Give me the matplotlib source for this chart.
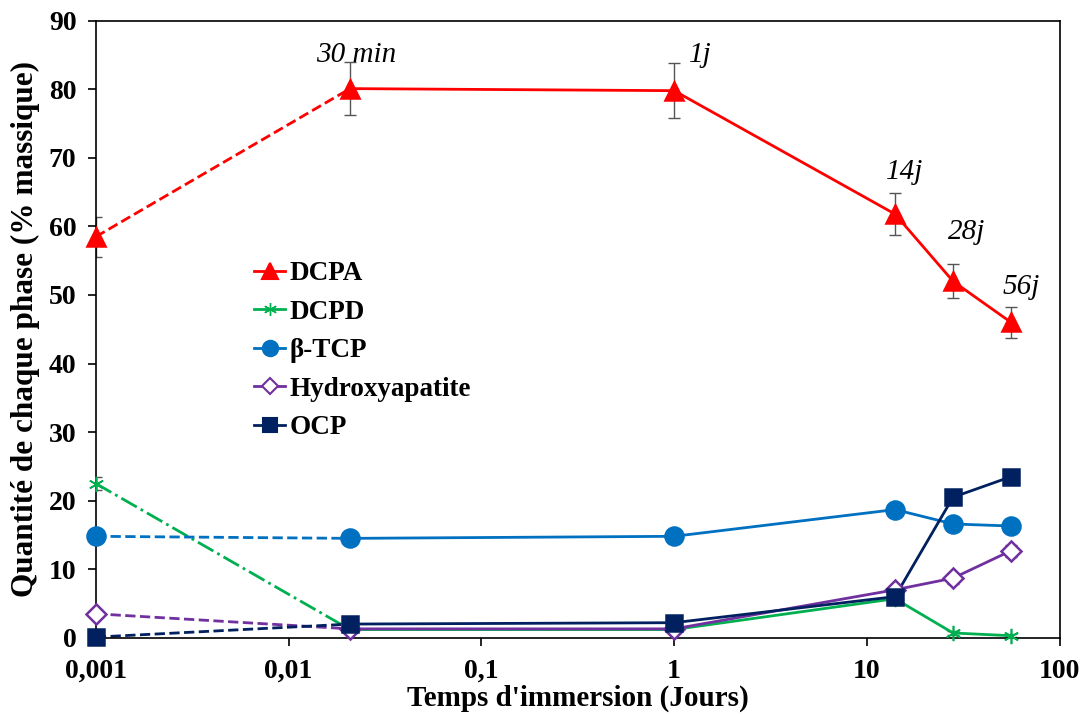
import numpy as np
import matplotlib
matplotlib.use("Agg")
import matplotlib.pyplot as plt
from matplotlib.ticker import FixedLocator, FixedFormatter, NullLocator

plt.rcParams['font.family'] = ['Liberation Serif', 'DejaVu Serif']

# temps en jours (0,001 = temps initial)
temps = [0.001, 30/1440, 1, 14, 28, 56]

dcpa = [58.5, 80.1, 79.8, 61.8, 52.0, 46.0]
dcpa_err = [2.9, 3.9, 4.0, 3.1, 2.5, 2.3]
dcpd = [22.5, 1.2, 1.2, 5.7, 0.7, 0.3]
dcpd_err = [1.0, 0.3, 0.3, 0.4, 0.3, 0.2]
btcp = [14.8, 14.5, 14.8, 18.7, 16.6, 16.3]
hap = [3.5, 1.3, 1.3, 7.0, 8.7, 12.7]
hap_err = [0.6, 0.3, 0.3, 0.6, 0.8, 0.9]
ocp = [0.1, 2.0, 2.2, 6.0, 20.5, 23.5]

etiquettes = ["30 min", "1j", "14j", "28j", "56j"]
etiq_x = [0.0225, 1.36, 15.7, 33, 63.5]
etiq_y = [85, 85, 68, 59.2, 51.2]

series = [
    ("DCPA", dcpa, dcpa_err, "#ff0000", "^", 13, "--"),
    ("DCPD", dcpd, dcpd_err, "#00b050", (6, 2, 0), 11, "-."),
    ("β-TCP", btcp, None, "#0070c0", "o", 13, "--"),
    ("Hydroxyapatite", hap, hap_err, "#7030a0", "D", 10, "--"),
    ("OCP", ocp, None, "#002060", "s", 12, "--"),
]

fig = plt.figure(figsize=(10.89, 7.15), dpi=100)
ax = fig.add_axes([0.088, 0.108, 0.885, 0.863])

handles = []
for nom, y, err, col, mk, ms, ls in series:
    if err is not None:
        ax.errorbar(temps, y, yerr=err, fmt="none", ecolor="#555555",
                    elinewidth=1, capsize=4, capthick=1, zorder=1)
    ax.plot(temps[:2], y[:2], ls=ls, color=col, lw=2, zorder=2, clip_on=False)
    ax.plot(temps[1:], y[1:], ls="-", color=col, lw=2, zorder=2, clip_on=False)
    fc = "white" if nom == "Hydroxyapatite" else col
    ax.plot(temps, y, ls="none", marker=mk, ms=ms, color=col,
            mfc=fc, mec=col, mew=1.8 if nom != "DCPD" else 1.2, zorder=3,
            clip_on=False)
    h, = ax.plot([], [], ls="-", color=col, lw=2, marker=mk, ms=ms * 0.85,
                 mfc=fc, mec=col, mew=1.5 if nom != "DCPD" else 1.0)
    handles.append(h)

for t, x, y in zip(etiquettes, etiq_x, etiq_y):
    ax.text(x, y, t, ha="center", va="center", fontsize=21, style="italic")

ax.set_xscale("log")
ax.set_xlim(0.001, 100)
ax.set_ylim(0, 90)
ax.xaxis.set_major_locator(FixedLocator([0.001, 0.01, 0.1, 1, 10, 100]))
ax.xaxis.set_major_formatter(FixedFormatter(["0,001", "0,01", "0,1", "1", "10", "100"]))
ax.xaxis.set_minor_locator(NullLocator())
ax.set_yticks(np.arange(0, 91, 10))
ax.tick_params(axis="both", direction="out", length=6, width=1.2, labelsize=20)
ax.tick_params(axis="x", pad=9)
ax.tick_params(axis="y", pad=8)
for lab in ax.get_xticklabels() + ax.get_yticklabels():
    lab.set_fontweight("bold")
for sp in ax.spines.values():
    sp.set_linewidth(1.2)

ax.set_xlabel("Temps d'immersion (Jours)", fontsize=21, fontweight="bold", labelpad=1)
ax.set_ylabel("Quantité de chaque phase (% massique)", fontsize=22.5, fontweight="bold", labelpad=6)

leg = ax.legend(handles, [s[0] for s in series], loc="upper left",
                bbox_to_anchor=(0.139, 0.65), frameon=False,
                prop={"size": 19.5, "weight": "bold"}, handlelength=1.15,
                handletextpad=0.15, labelspacing=0.5)

plt.savefig("out.png", dpi=100)
